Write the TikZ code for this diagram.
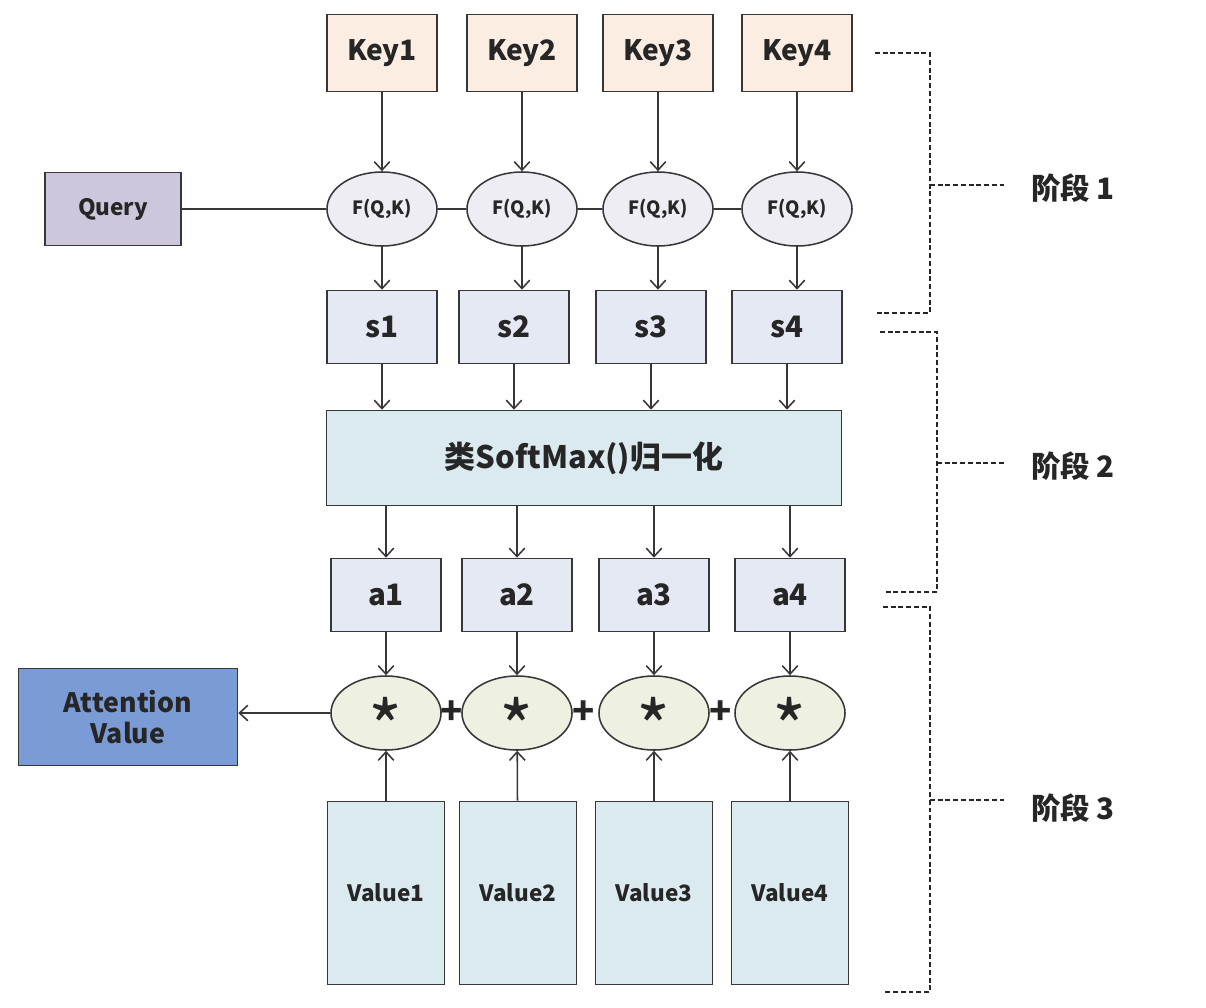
\documentclass[tikz,border=0pt]{standalone}
\usepackage{fontspec}
\setmainfont{Noto Sans CJK SC}
\usetikzlibrary{shapes,arrows.meta}

\definecolor{keyfill}{RGB}{252,237,226}
\definecolor{queryfill}{RGB}{205,198,220}
\definecolor{ffill}{RGB}{237,237,243}
\definecolor{sfill}{RGB}{228,233,244}
\definecolor{normfill}{RGB}{219,234,239}
\definecolor{mulfill}{RGB}{238,240,225}
\definecolor{attfill}{RGB}{123,155,215}
\definecolor{edge}{RGB}{55,55,55}

\begin{document}
\begin{tikzpicture}[x=0.025cm,y=-0.025cm,
    >={Straight Barb[length=6pt,width=11pt,line width=1.1pt]},
    every node/.style={line width=1.1pt,draw=edge,inner sep=0pt,text=black!85,font=\bfseries},
    key/.style={rectangle,fill=keyfill,minimum width=2.75cm,minimum height=1.925cm,font=\bfseries\fontsize{20}{24}\selectfont},
    query/.style={rectangle,fill=queryfill,minimum width=3.4cm,minimum height=1.825cm,font=\bfseries\fontsize{16}{20}\selectfont},
    fqk/.style={ellipse,fill=ffill,minimum width=2.75cm,minimum height=1.85cm,font=\bfseries\fontsize{13}{15}\selectfont},
    sbox/.style={rectangle,fill=sfill,minimum width=2.75cm,minimum height=1.825cm,font=\bfseries\fontsize{21}{24}\selectfont},
    norm/.style={rectangle,fill=normfill,minimum width=12.875cm,minimum height=2.375cm,font=\bfseries\fontsize{22}{26}\selectfont},
    mul/.style={ellipse,fill=mulfill,minimum width=2.75cm,minimum height=1.85cm,font=\fontsize{52}{54}\selectfont},
    plus/.style={draw=none,font=\bfseries\fontsize{26}{28}\selectfont},
    att/.style={rectangle,fill=attfill,minimum width=5.475cm,minimum height=2.425cm,align=center,font=\bfseries\fontsize{19}{22}\selectfont},
    val/.style={rectangle,fill=normfill,minimum width=2.925cm,minimum height=4.575cm,font=\bfseries\fontsize{16}{20}\selectfont},
    stagelbl/.style={draw=none,font=\bfseries\fontsize{21}{24}\selectfont},
    stage/.style={line width=1.3pt,dash pattern=on 3.5pt off 2pt,draw=black!85},
    link/.style={line width=1.1pt,draw=edge}]
    \useasboundingbox (0,0) rectangle (1206,1008);

    \node[key] (k1) at (382,53) {Key1};
    \node[key] (k2) at (522,53) {Key2};
    \node[key] (k3) at (658,53) {Key3};
    \node[key] (k4) at (797,53) {Key4};

    \node[query] (q) at (113,209) {Query};
    \node[fqk] (f1) at (382,209) {F(Q,K)};
    \node[fqk] (f2) at (522,209) {F(Q,K)};
    \node[fqk] (f3) at (658,209) {F(Q,K)};
    \node[fqk] (f4) at (797,209) {F(Q,K)};

    \node[sbox] (s1) at (382,327) {s1};
    \node[sbox] (s2) at (514,327) {s2};
    \node[sbox] (s3) at (651,327) {s3};
    \node[sbox] (s4) at (787,327) {s4};

    \node[norm] (sm) at (584,458) {类SoftMax()归一化};

    \node[sbox] (a1) at (386,595) {a1};
    \node[sbox] (a2) at (517,595) {a2};
    \node[sbox] (a3) at (654,595) {a3};
    \node[sbox] (a4) at (790,595) {a4};

    \node[mul] (m1) at (386,713) {\smash{\raisebox{-30pt}{*}}};
    \node[mul] (m2) at (517,713) {\smash{\raisebox{-30pt}{*}}};
    \node[mul] (m3) at (654,713) {\smash{\raisebox{-30pt}{*}}};
    \node[mul] (m4) at (790,713) {\smash{\raisebox{-30pt}{*}}};
    \node[plus] (p1) at (452,713) {+};
    \node[plus] (p2) at (584,713) {+};
    \node[plus] (p3) at (721,713) {+};

    \node[att] (att) at (128,717) {Attention\\Value};

    \node[val] (v1) at (386,893) {Value1};
    \node[val] (v2) at (518,893) {Value2};
    \node[val] (v3) at (654,893) {Value3};
    \node[val] (v4) at (790,893) {Value4};

    % stage 1
    \draw[link,->] (k1) -- (f1);
    \draw[link,->] (k2) -- (f2);
    \draw[link,->] (k3) -- (f3);
    \draw[link,->] (k4) -- (f4);
    \draw[link] (q) -- (f1);
    \draw[link] (f1) -- (f2);
    \draw[link] (f2) -- (f3);
    \draw[link] (f3) -- (f4);
    \draw[link,->] (f1.south) -- (f1.south |- s1.north);
    \draw[link,->] (f2.south) -- (f2.south |- s2.north);
    \draw[link,->] (f3.south) -- (f3.south |- s3.north);
    \draw[link,->] (f4.south) -- (f4.south |- s4.north);

    % stage 2
    \draw[link,->] (s1.south) -- (s1.south |- sm.north);
    \draw[link,->] (s2.south) -- (s2.south |- sm.north);
    \draw[link,->] (s3.south) -- (s3.south |- sm.north);
    \draw[link,->] (s4.south) -- (s4.south |- sm.north);
    \draw[link,->] (sm.south -| a1) -- (a1);
    \draw[link,->] (sm.south -| a2) -- (a2);
    \draw[link,->] (sm.south -| a3) -- (a3);
    \draw[link,->] (sm.south -| a4) -- (a4);

    % stage 3
    \draw[link,->] (a1) -- (m1);
    \draw[link,->] (a2) -- (m2);
    \draw[link,->] (a3) -- (m3);
    \draw[link,->] (a4) -- (m4);
    \draw[link,->] (v1) -- (m1);
    \draw[link,->] (v2) -- (m2);
    \draw[link,->] (v3) -- (m3);
    \draw[link,->] (v4) -- (m4);
    \draw[link,->] (m1.west) -- (m1.west -| att.east);

    % brackets
    \node[stagelbl] (st1) at (1073,188) {阶段 1};
    \node[stagelbl] (st2) at (1073,466) {阶段 2};
    \node[stagelbl] (st3) at (1073,808) {阶段 3};
    \draw[stage] (875,53) -- (930,53) -- (930,313) -- (877,313);
    \draw[stage] (930,185) -- ([xshift=-0.65cm]st1.west |- 0,185);
    \draw[stage] (880,332) -- (937,332) -- (937,592) -- (883,592);
    \draw[stage] (937,463) -- ([xshift=-0.65cm]st2.west |- 0,463);
    \draw[stage] (883,607) -- (930,607) -- (930,992) -- (883,992);
    \draw[stage] (930,800) -- ([xshift=-0.65cm]st3.west |- 0,800);
\end{tikzpicture}
\end{document}
